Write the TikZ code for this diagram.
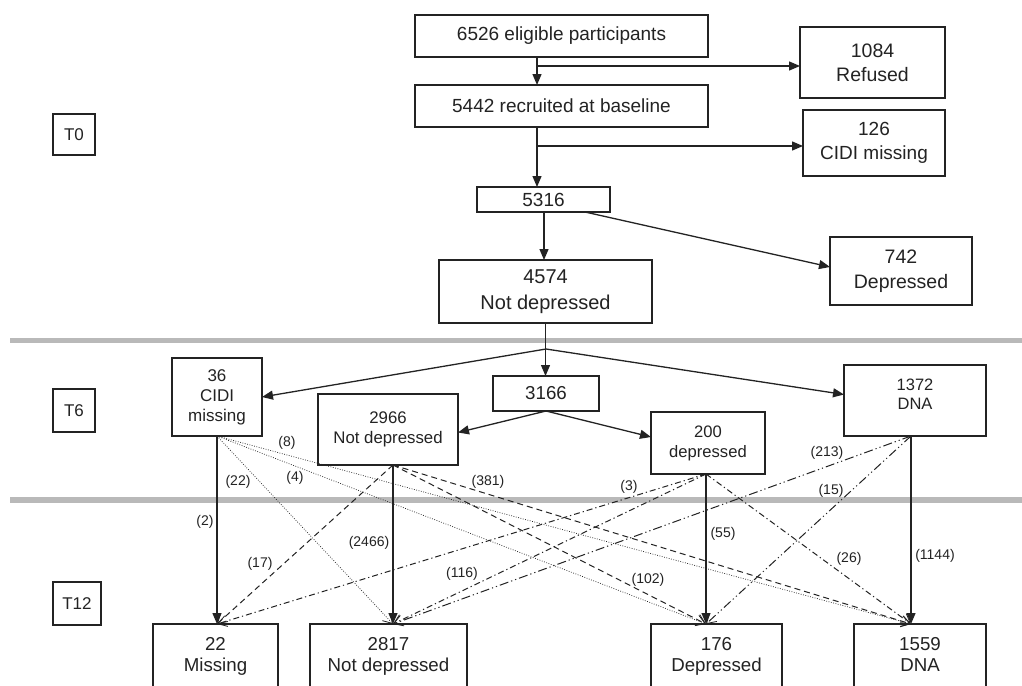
\documentclass[tikz,border=0pt]{standalone}
\usepackage{fontspec}
\setmainfont{Liberation Sans}
\usetikzlibrary{arrows.meta}
\newcommand{\fsz}[2]{\fontsize{#1}{#2}\selectfont}
\definecolor{ink}{RGB}{35,35,35}
\definecolor{band}{RGB}{185,185,185}
\begin{document}
\begin{tikzpicture}[x=1pt,y=-1pt,
  box/.style={draw=ink, line width=1.2pt, text=ink, align=center, inner sep=0pt, outer sep=0pt},
  solidarr/.style={draw=ink, line width=1.3pt, -{Triangle[length=11pt,width=9pt]}},
  openhead/.style={-{Straight Barb[length=9pt,width=11pt,line width=0.8pt]}},
  dotl/.style={draw=ink, line width=0.7pt, dash pattern=on 0.8pt off 1.6pt, openhead},
  dashl/.style={draw=ink, line width=1pt, dash pattern=on 6pt off 4pt, openhead},
  dashdot/.style={draw=ink, line width=1pt, dash pattern=on 6pt off 3pt on 1.2pt off 3pt, openhead},
  dashdd/.style={draw=ink, line width=1pt, dash pattern=on 9pt off 3pt on 1.2pt off 3pt on 1.2pt off 3pt, openhead},
  lab/.style={text=ink, font=\fsz{14}{16}, inner sep=0pt}
]
\useasboundingbox (0,0) rectangle (1022,685);
\fill[white] (0,0) rectangle (1022,685);

% bands
\draw[band, line width=5pt] (10,340.5) -- (1022,340.5);
\draw[band, line width=5.5pt] (10,500) -- (1022,500);

% T labels
\node[box, minimum width=42pt, minimum height=41pt, font=\fsz{17}{20}] (t0) at (74,134.5) {T0};
\node[box, minimum width=42pt, minimum height=43pt, font=\fsz{17}{20}] (t6) at (74,410.5) {T6};
\node[box, minimum width=48pt, minimum height=43pt, font=\fsz{17}{20}] (t12) at (77,603.5) {T12};

% T0 boxes
\node[box, minimum width=293pt, minimum height=42pt, font=\fsz{19}{23}] (elig) at (561.5,36) {6526 eligible participants};
\node[box, minimum width=145pt, minimum height=71pt, font=\fsz{19.5}{24}] (refused) at (872.5,62.5) {1084\\Refused};
\node[box, minimum width=293pt, minimum height=42pt, font=\fsz{19}{23}] (recruit) at (561.5,106) {5442 recruited at baseline};
\node[box, minimum width=142pt, minimum height=66pt, font=\fsz{19}{24}] (cidi126) at (874,143) {126\\CIDI missing};
\node[box, minimum width=133pt, minimum height=25pt, font=\fsz{19}{23}] (n5316) at (543.5,199.5) {5316};
\node[box, minimum width=213pt, minimum height=63pt, font=\fsz{20}{26}] (n4574) at (545.5,291.5) {4574\\Not depressed};
\node[box, minimum width=142pt, minimum height=68pt, font=\fsz{19.5}{25}] (dep742) at (901,271) {742\\Depressed};

% T6 boxes
\node[box, minimum width=90pt, minimum height=78pt, font=\fsz{17}{20}] (cidi36) at (217,397) {36\\CIDI\\missing};
\node[box, minimum width=106pt, minimum height=35pt, font=\fsz{18.7}{22}] (n3166) at (546,393.5) {3166};
\node[box, minimum width=140pt, minimum height=71pt, font=\fsz{16.8}{20}] (n2966) at (388,429.5) {2966\\Not depressed};
\node[box, minimum width=114pt, minimum height=62pt, font=\fsz{16.6}{20}] (n200) at (708,443) {200\\depressed};
\node[box, minimum width=142pt, minimum height=71pt, font=\fsz{16.5}{19}] (n1372) at (915,400.5) {1372\\DNA\\[-6pt]};

% T12 boxes
\node[box, anchor=north, minimum width=125pt, minimum height=70pt, font=\fsz{18.7}{21}] (miss) at (215.5,624) {22\\Missing\\[-11pt]};
\node[box, anchor=north, minimum width=157pt, minimum height=70pt, font=\fsz{18.7}{21}] (nd2817) at (388.5,624) {2817\\Not depressed\\[-11pt]};
\node[box, anchor=north, minimum width=131pt, minimum height=70pt, font=\fsz{18.7}{21}] (d176) at (716.5,624) {176\\Depressed\\[-11pt]};
\node[box, anchor=north, minimum width=132pt, minimum height=70pt, font=\fsz{18.7}{21}] (dna1559) at (920,624) {1559\\DNA\\[-11pt]};

% T0 connectors
\coordinate (h1) at (537,66);
\coordinate (h2) at (537,146);
\draw[solidarr] ([xshift=-24.5pt]elig.south) -- ([xshift=-24.5pt]recruit.north);
\draw[solidarr] (h1) -- (h1 -| refused.west);
\draw[solidarr] ([xshift=-24.5pt]recruit.south) -- ([xshift=-24.5pt]recruit.south |- n5316.north);
\draw[solidarr] (h2) -- (h2 -| cidi126.west);
\draw[solidarr] ([xshift=0.5pt]n5316.south) -- ([xshift=0.5pt]n5316.south |- n4574.north);
\draw[solidarr] ([xshift=41.5pt]n5316.south) -- ([yshift=4pt]dep742.west);

% to T6
\coordinate (br) at (546,349);
\draw[solidarr] (n4574.south) -- (n4574.south |- n3166.north);
\draw[solidarr] (br) -- (cidi36.east);
\draw[solidarr] (br) -- ([yshift=6pt]n1372.west);
\draw[solidarr] (n3166.south) -- ([yshift=-3pt]n2966.east);
\draw[solidarr] (n3166.south) -- ([yshift=6pt]n200.west);

% T6 -> T12
\coordinate (s36) at (cidi36.south);
\coordinate (s2966) at ([xshift=5pt]n2966.south);
\coordinate (s200) at ([xshift=-2pt]n200.south);
\coordinate (s1372) at ([xshift=-4pt]n1372.south);
\coordinate (e22) at (s36 |- miss.north);
\coordinate (e2817) at (s2966 |- nd2817.north);
\coordinate (e176) at (s200 |- d176.north);
\coordinate (e1559) at (s1372 |- dna1559.north);

\draw[dotl] (s36) -- (e2817);
\draw[dotl] (s36) -- (e176);
\draw[dotl] (s36) -- (e1559);
\draw[dashl] (s2966) -- (e22);
\draw[dashl] (s2966) -- (e176);
\draw[dashl] (s2966) -- (e1559);
\draw[dashdot] (s200) -- (e22);
\draw[dashdot] (s200) -- (e2817);
\draw[dashdot] (s200) -- (e1559);
\draw[dashdd] (s1372) -- (e2817);
\draw[dashdd] (s1372) -- (e176);

\draw[solidarr] (s36) -- (e22);
\draw[solidarr] (s2966) -- (e2817);
\draw[solidarr] (s200) -- (e176);
\draw[solidarr] (s1372) -- (e1559);

% labels
\node[lab] (l8) at (287,443) {(8)};
\node[lab] (l22) at (238,482) {(22)};
\node[lab] (l4) at (295,478) {(4)};
\node[lab] (l2) at (205,522) {(2)};
\node[lab] (l2466) at (369,543) {(2466)};
\node[lab] (l17) at (260,564) {(17)};
\node[lab] (l381) at (488,482) {(381)};
\node[lab] (l3) at (629,487) {(3)};
\node[lab] (l213) at (827,453) {(213)};
\node[lab] (l15) at (831,491) {(15)};
\node[lab] (l55) at (723,534) {(55)};
\node[lab] (l26) at (849,559) {(26)};
\node[lab] (l1144) at (935,556) {(1144)};
\node[lab] (l116) at (462,574) {(116)};
\node[lab] (l102) at (648,580) {(102)};
\end{tikzpicture}
\end{document}
